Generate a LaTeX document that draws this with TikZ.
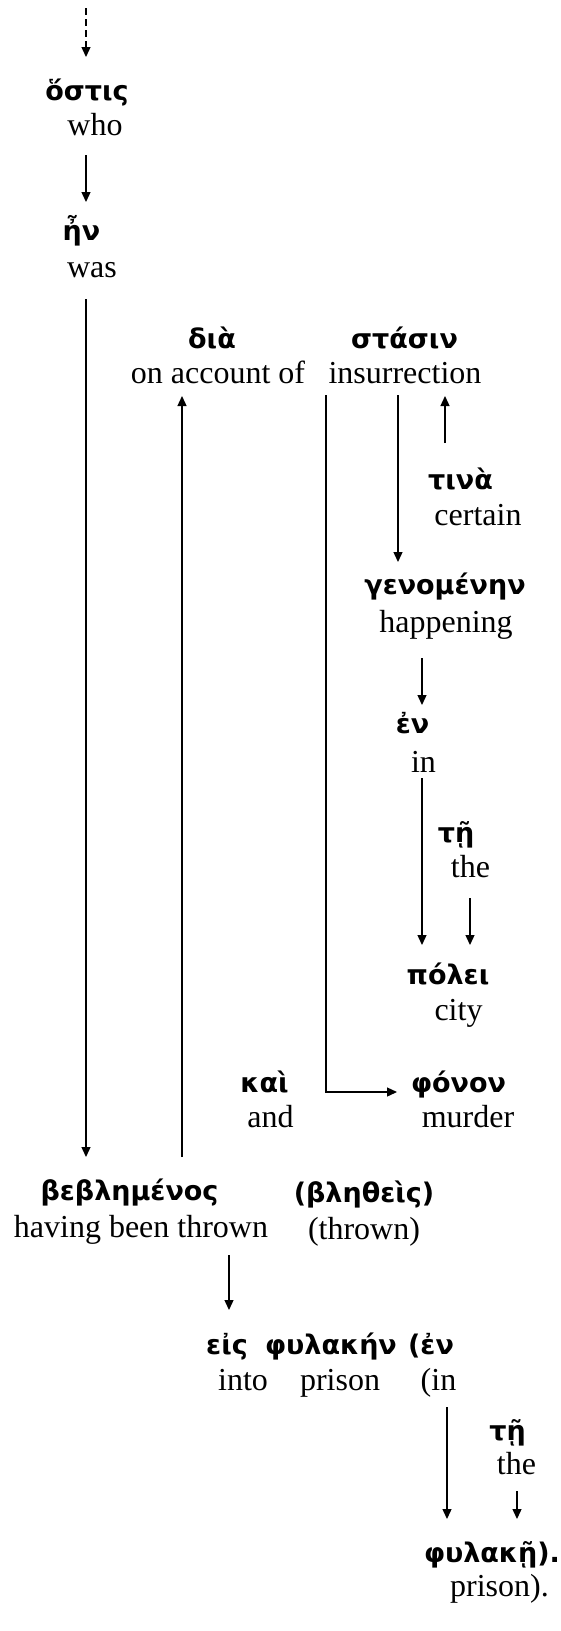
\documentclass[tikz,border=0pt]{standalone}
\usepackage{fontspec}
\setmainfont{Liberation Serif}
\newfontfamily\greekfont{DejaVu Sans}
\usetikzlibrary{arrows.meta}
\tikzset{
  gk/.style={font=\greekfont\bfseries\fontsize{27}{31}\selectfont, inner sep=0pt, anchor=base},
  en/.style={font=\fontsize{32}{36}\selectfont, inner sep=0pt, anchor=base},
  arr/.style={-{Triangle[length=10pt,width=9pt]}, line width=1.3pt},
  dasharr/.style={arr, dash pattern=on 7pt off 4pt}
}
\begin{document}
\begin{tikzpicture}[x=1pt,y=-1pt]
\useasboundingbox (0,0) rectangle (560,1631);
% nodes
\coordinate (top) at (86,8);
\node[gk] (gostis) at (87,100) {ὅστις};
\node[en] (ewho) at (95,135) {who};
\node[gk] (gen) at (81.5,240) {ἦν};
\node[en] (ewas) at (92,277) {was};
\node[gk] (gdia) at (212,348) {διὰ};
\node[en] (edia) at (218,383) {on account of};
\node[gk] (gstasin) at (404.5,348) {στάσιν};
\node[en] (estasin) at (405,383) {insurrection};
\node[gk] (gtina) at (460.5,489) {τινὰ};
\node[en] (etina) at (478,525) {certain};
\node[gk] (ggen) at (445,594) {γενομένην};
\node[en] (ehapp) at (446,632) {happening};
\node[gk] (gen2) at (412.5,733) {ἐν};
\node[en] (ein) at (423.5,772) {in};
\node[gk] (gte) at (456,842) {τῇ};
\node[en] (ethe) at (470.5,877) {the};
\node[gk] (gpolei) at (448,984) {πόλει};
\node[en] (ecity) at (458.5,1020) {city};
\node[gk] (gkai) at (264.5,1092) {καὶ};
\node[en] (eand) at (270.5,1127) {and};
\node[gk] (gfonon) at (458.5,1092) {φόνον};
\node[en] (emurder) at (468,1127) {murder};
\node[gk] (gbebl) at (129.5,1200) {βεβλημένος};
\node[en] (ebebl) at (141,1237) {having been thrown};
\node[gk] (gblet) at (364,1202) {(βληθεὶς)};
\node[en] (eblet) at (364,1239) {(thrown)};
\node[gk] (geis) at (227,1354) {εἰς};
\node[en] (einto) at (243,1390) {into};
\node[gk] (gfyl) at (331,1354) {φυλακήν};
\node[en] (eprison) at (340,1390) {prison};
\node[gk] (gen3) at (431,1354) {(ἐν};
\node[en] (ein3) at (438.5,1390) {(in};
\node[gk] (gte2) at (507.5,1440) {τῇ};
\node[en] (ethe2) at (516.5,1474) {the};
\node[gk] (gfyl2) at (492,1562) {φυλακῇ).};
\node[en] (eprison2) at (499.5,1596) {prison).};
% connectors
\draw[dasharr] (top) -- ([xshift=-1pt,yshift=43pt]gostis.base);
\draw[arr] ([xshift=-9pt,yshift=-20pt]ewho.base) -- ([xshift=4.5pt,yshift=38pt]gen.base);
\draw[arr] ([xshift=-6pt,yshift=-22pt]ewas.base) -- ([xshift=-43.5pt,yshift=43pt]gbebl.base);
\draw[arr] ([xshift=52.5pt,yshift=43pt]gbebl.base) -- ([xshift=-36pt,yshift=-13pt]edia.base);
\draw[arr] ([xshift=-79pt,yshift=-12pt]estasin.base) |- ([xshift=-61.5pt,yshift=0pt]gfonon.base);
\draw[arr] ([xshift=-7pt,yshift=-12pt]estasin.base) -- ([xshift=-47pt,yshift=32pt]ggen.base);
\draw[arr] ([xshift=-15.5pt,yshift=46pt]gtina.base) -- ([xshift=40pt,yshift=-13pt]estasin.base);
\draw[arr] ([xshift=-24pt,yshift=-26pt]ehapp.base) -- ([xshift=9.5pt,yshift=28pt]gen2.base);
\draw[arr] ([xshift=-1.5pt,yshift=-6pt]ein.base) -- ([xshift=-26pt,yshift=39pt]gpolei.base);
\draw[arr] ([xshift=-0.5pt,yshift=-21pt]ethe.base) -- ([xshift=22pt,yshift=39pt]gpolei.base);
\draw[arr] ([xshift=88pt,yshift=-18pt]ebebl.base) -- ([xshift=2pt,yshift=44pt]geis.base);
\draw[arr] ([xshift=8.5pt,yshift=-17pt]ein3.base) -- ([xshift=-45pt,yshift=43pt]gfyl2.base);
\draw[arr] ([xshift=0.5pt,yshift=-17pt]ethe2.base) -- ([xshift=25pt,yshift=43pt]gfyl2.base);
\end{tikzpicture}
\end{document}
